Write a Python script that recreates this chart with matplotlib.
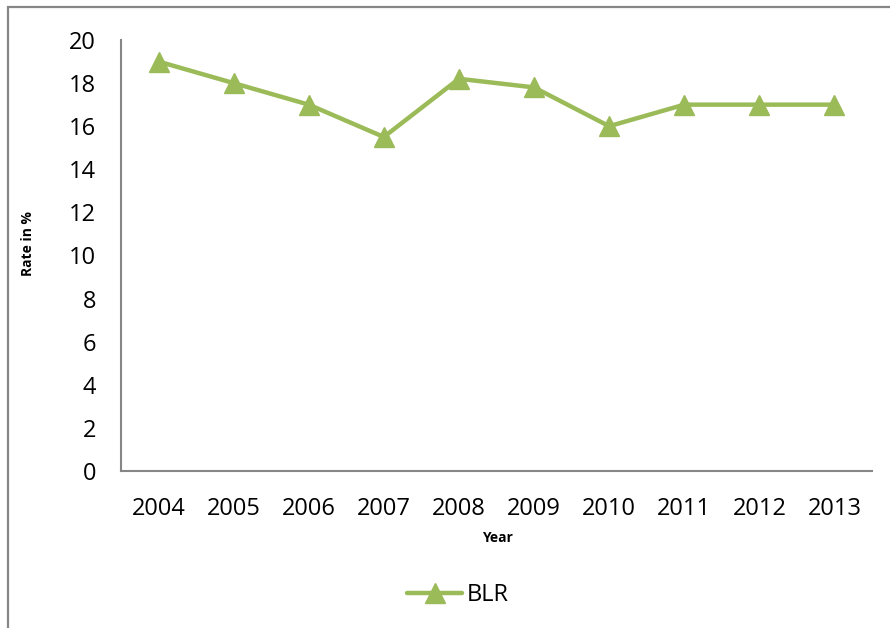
import matplotlib.pyplot as plt
import matplotlib.patches as mpatches

# data
years = ['2004', '2005', '2006', '2007', '2008', '2009', '2010', '2011', '2012', '2013']
blr = [19, 18, 17, 15.5, 18.2, 17.8, 16, 17, 17, 17]
yticks = [0, 2, 4, 6, 8, 10, 12, 14, 16, 18, 20]

green = '#9BBB59'
grey = '#868686'

plt.rcParams['font.family'] = ['Open Sans', 'DejaVu Sans']

fig = plt.figure(figsize=(8.9, 6.28), dpi=100)
ax = fig.add_axes([121/890, 1 - 471/628, (872 - 121)/890, (471 - 40)/628])

# outer chart frame (right and bottom edges fall off the picture)
fig.patches.append(mpatches.Rectangle((8/890, -0.1), 1.2, 1 - 7/628 + 0.1,
                                      transform=fig.transFigure, fill=False,
                                      edgecolor=grey, linewidth=1.6))

x = range(len(years))
ax.plot(x, blr, color=green, linewidth=3.2, marker='^', markersize=14,
        markeredgecolor=green, markerfacecolor=green, label='BLR',
        solid_capstyle='round')

ax.set_xlim(-0.5, len(years) - 0.5)
ax.set_ylim(0, 20)
ax.set_xticks(list(x))
ax.set_xticklabels(years)
ax.set_yticks(yticks)
ax.tick_params(axis='both', length=0, labelsize=17)
ax.tick_params(axis='y', pad=18)
ax.tick_params(axis='x', pad=19)

for s in ['top', 'right']:
    ax.spines[s].set_visible(False)
for s in ['left', 'bottom']:
    ax.spines[s].set_color(grey)
    ax.spines[s].set_linewidth(1.5)

fig.text(497/890, 1 - 538/628, 'Year', ha='center', va='center',
         fontsize=10, fontweight='bold')
fig.text(28/890, 1 - 244/628, 'Rate in %', ha='center', va='center',
         rotation=90, fontsize=10, fontweight='bold')

fig.legend(loc='center', bbox_to_anchor=(458/890, 1 - 595/628), frameon=False,
           fontsize=17, handlelength=2.3, handletextpad=0.2)

fig.savefig('out.png', dpi=100)
